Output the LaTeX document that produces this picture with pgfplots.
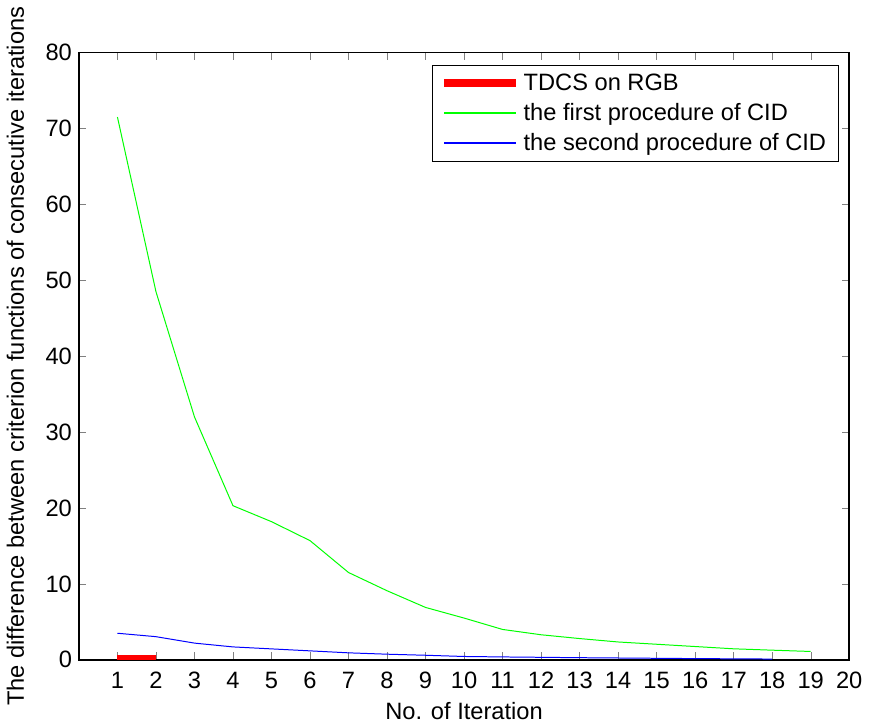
\documentclass[border=0pt]{standalone}
\usepackage{pgfplots}
\pgfplotsset{compat=1.18}
\usepackage{fontspec}
\setmainfont{Liberation Sans}
\begin{document}
\begin{tikzpicture}
\begin{axis}[
    scale only axis,
    width=387.5pt,
    height=305.5pt,
    xmin=0, xmax=20,
    ymin=0, ymax=80,
    xtick={1,2,...,20},
    ytick={0,10,...,80},
    tick align=inside,
    major tick length=3.8pt,
    axis line style={line width=0.8pt},
    /pgf/number format/assume math mode=true,
    tick label style={font=\fontsize{11.9}{13}\selectfont},
    xticklabel style={yshift=-2.5pt},
    label style={font=\fontsize{11.9}{13}\selectfont},
    xlabel={No. of Iteration},
    ylabel={The difference between criterion functions of consecutive iterations},
    ylabel style={yshift=4pt},
    legend style={at={(rel axis cs:0.986,0.979)}, anchor=north east, draw=black,
        font=\fontsize{11.9}{13}\selectfont, row sep=1pt,
        inner xsep=4pt, inner ysep=2pt},
    legend cell align=left,
    legend image code/.code={\draw[#1] (0pt,0pt) -- (36pt,0pt);},
]
\addplot[red, line width=4pt] coordinates {(1,0.1) (2,0.1)};
\addlegendentry{TDCS on RGB}
\addplot[green, line width=0.5pt, legend image post style={green, line width=0.8pt}] coordinates {
(1,71.5) (2,48.5) (3,32) (4,20.3) (5,18.2) (6,15.7) (7,11.5) (8,9.1) (9,6.9) (10,5.5)
(11,4.0) (12,3.3) (13,2.8) (14,2.35) (15,2.05) (16,1.75) (17,1.45) (18,1.27) (19,1.1)};
\addlegendentry{the first procedure of CID}
\addplot[blue, line width=0.5pt, legend image post style={blue, line width=0.8pt}] coordinates {
(1,3.5) (2,3.05) (3,2.2) (4,1.7) (5,1.44) (6,1.18) (7,0.92) (8,0.74) (9,0.6) (10,0.44)
(11,0.38) (12,0.33) (13,0.28) (14,0.24) (15,0.2) (16,0.16) (17,0.13) (18,0.1)};
\addlegendentry{the second procedure of CID}
\end{axis}
\end{tikzpicture}
\end{document}
